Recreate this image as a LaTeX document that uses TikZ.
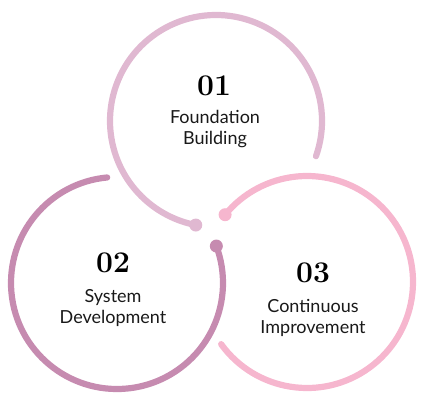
\documentclass[tikz,border=0pt]{standalone}
\usepackage{fontspec}
\newfontfamily\labelfont{Lato}
\definecolor{cone}{RGB}{224,184,209}
\definecolor{ctwo}{RGB}{198,139,176}
\definecolor{cthree}{RGB}{246,182,206}
\begin{document}
\begin{tikzpicture}[x=1pt,y=1pt,
  ring/.style={line width=6.2pt, line cap=round},
  enddot/.style={circle, inner sep=0pt, minimum size=13pt},
  num/.style={font=\fontsize{30}{31}\selectfont\bfseries, text=black, inner sep=0pt},
  lbl/.style={font=\labelfont\fontsize{18}{21.5}\selectfont, align=center, text=black!90, inner sep=0pt}]
\useasboundingbox (0,0) rectangle (428,416);
\coordinate (c1) at (216,295);
\coordinate (c2) at (117,133);
\coordinate (c3) at (307,134);
% rings
\draw[ring, cone] (c1) ++(-19.4:106) arc[start angle=-19.4, end angle=259, radius=106];
\draw[ring, ctwo] (c2) ++(95.3:106) arc[start angle=95.3, end angle=380.4, radius=106];
\draw[ring, cthree] (c3) ++(-144.1:106) arc[start angle=-144.1, end angle=140.6, radius=106];
% end dots
\path (c1) ++(259:106) node[enddot, fill=cone] (d1) {};
\path (c2) ++(20.4:106) node[enddot, fill=ctwo] (d2) {};
\path (c3) ++(140.6:106) node[enddot, fill=cthree] (d3) {};
% texts
\node[num] (n1) at (214,330) {01};
\node[lbl] (t1) at (215,287) {Foundation\\Building};
\node[num] (n2) at (113,153) {02};
\node[lbl] (t2) at (113,108) {System\\Development};
\node[num] (n3) at (313,143) {03};
\node[lbl] (t3) at (313,98) {Continuous\\Improvement};
\end{tikzpicture}
\end{document}
